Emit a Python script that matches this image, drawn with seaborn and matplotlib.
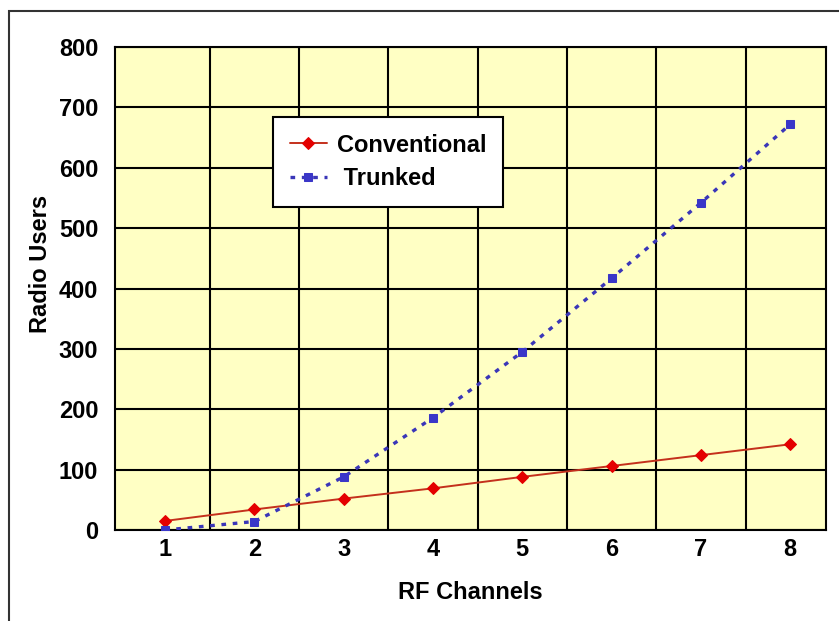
import numpy as np
import pandas as pd
import seaborn as sns
import matplotlib.pyplot as plt
from matplotlib.patches import Rectangle

# values
channels = [1, 2, 3, 4, 5, 6, 7, 8]
conventional = [15, 34, 52, 69, 88, 106, 124, 142]
trunked = [0, 14, 88, 186, 295, 417, 542, 672]
y_ticks = [0, 100, 200, 300, 400, 500, 600, 700, 800]

df = pd.DataFrame({"RF Channels": channels,
                   "Conventional": conventional,
                   "Trunked": trunked})

sns.set_style("white")
plt.rcParams['font.family'] = ['Liberation Sans', 'DejaVu Sans']
plt.rcParams['font.weight'] = 'bold'
plt.rcParams['text.color'] = 'black'
plt.rcParams['axes.labelcolor'] = 'black'
plt.rcParams['xtick.color'] = 'black'
plt.rcParams['ytick.color'] = 'black'

fig = plt.figure(figsize=(8.39, 6.21), dpi=100)
ax = fig.add_axes([115/839, 1 - 530/621, 711/839, 483/621])
ax.set_facecolor('#ffffc4')

sns.lineplot(data=df, x="RF Channels", y="Conventional", ax=ax,
             color='#c4301c', linewidth=1.4, marker='D', markersize=6.5,
             markerfacecolor='#e40000', markeredgecolor='#e40000',
             label='Conventional', zorder=3)
sns.lineplot(data=df, x="RF Channels", y="Trunked", ax=ax,
             color='#3a36b8', linewidth=2.4, marker='s', markersize=6,
             markerfacecolor='#3a36c8', markeredgecolor='#3a36c8',
             label=' Trunked', zorder=3)
ax.lines[1].set_dashes((1.4, 2.0))

ax.set_xlim(0.44, 8.4)
ax.set_ylim(0, 800)
ax.set_xticks(channels)
ax.set_xticks(np.arange(1.5, 8, 1), minor=True)
ax.set_yticks(y_ticks)
ax.grid(False)
ax.grid(True, which='minor', axis='x', color='black', linewidth=1.5)
ax.grid(True, which='major', axis='y', color='black', linewidth=1.5)
ax.tick_params(axis='both', which='both', length=0, labelsize=17)
ax.tick_params(axis='y', pad=12)
ax.tick_params(axis='x', pad=6)
for s in ax.spines.values():
    s.set_visible(True)
    s.set_color('black')
    s.set_linewidth(1.5)

ax.set_xlabel("RF Channels", fontsize=17, fontweight='bold', labelpad=14)
ax.set_ylabel("Radio Users", fontsize=17, fontweight='bold')
ax.yaxis.set_label_coords(-0.088, 0.55)

leg = ax.legend(loc='upper left', bbox_to_anchor=((273-115)/711, (530-117)/483),
                borderaxespad=0, fontsize=17, frameon=True, fancybox=False,
                framealpha=1, edgecolor='black', handlelength=1.6,
                labelspacing=0.45, borderpad=0.7, handletextpad=0.4)
leg.get_frame().set_linewidth(1.5)
for t in leg.get_texts():
    t.set_fontweight('bold')

# outer chart frame
fig.patches.append(Rectangle((9/839, -0.1), 1.2, 1 - 11/621 + 0.1,
                             transform=fig.transFigure, fill=False,
                             edgecolor='#333333', linewidth=1.5))

fig.savefig('out.png', dpi=100)
